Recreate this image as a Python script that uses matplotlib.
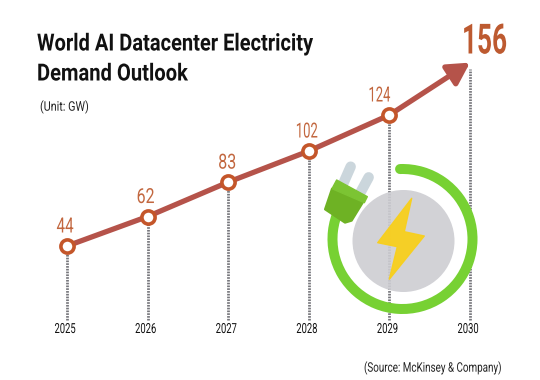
import matplotlib
matplotlib.use("Agg")
import matplotlib.pyplot as plt
from matplotlib.patches import Circle, Arc, Polygon
from matplotlib.patheffects import AbstractPathEffect
from matplotlib.transforms import Affine2D

years = [2025, 2026, 2027, 2028, 2029, 2030]
demand = [44, 62, 83, 102, 124, 156]

plt.rcParams['font.family'] = ['Roboto', 'Liberation Sans', 'DejaVu Sans']

line_col = '#b5534a'
ring_col = '#c4562a'
num_col = '#c2673f'
grey = '#77777c'


# no condensed font is installed, so squeeze the glyphs sideways when they are drawn
class Squeeze(AbstractPathEffect):
  def __init__(self, sx, x0):
    super().__init__()
    self.sx = sx
    self.x0 = x0

  def draw_path(self, renderer, gc, tpath, affine, rgbFace=None):
    squeeze = Affine2D().translate(-self.x0, 0).scale(self.sx, 1).translate(self.x0, 0)
    renderer.draw_path(gc, tpath, affine + squeeze, rgbFace)


def narrow(t, width_px):
  box = t.get_window_extent(fig.canvas.get_renderer())
  ha = t.get_ha()
  x0 = box.x0 if ha == 'left' else box.x1 if ha == 'right' else (box.x0 + box.x1) / 2
  t.set_path_effects([Squeeze(width_px / box.width, x0)])


fig = plt.figure(figsize=(5.4, 3.8), dpi=100)
ax = fig.add_axes([0, 0, 1, 1])
ax.set_xlim(2025 - 67 / 80.6, 2025 + 473 / 80.6)
ax.set_ylim(44 - 134 / 1.6375, 44 + 246 / 1.6375)
ax.axis('off')

# pixel coordinates for the texts and the icon
ic = fig.add_axes([0, 0, 1, 1])
ic.set_xlim(0, 540)
ic.set_ylim(380, 0)
ic.axis('off')
ic.patch.set_alpha(0)

# drop lines down to the year labels
base = 44 - 74 / 1.6375
for x, y in zip(years, demand):
  top = y - 4 if x == 2030 else y
  ax.plot([x, x], [base, top], color=grey, lw=2, ls=(0, (0.6, 0.4)), zorder=1)
  t = ax.annotate(str(x), (x, base), xytext=(-2, -9), textcoords='offset pixels', ha='center',
                  va='center', fontsize=10, color='#111111')
  narrow(t, 21)

ax.plot(years[:-1], demand[:-1], color=line_col, lw=3.8, zorder=3, solid_capstyle='butt')
ax.annotate('', xy=(years[-1], demand[-1]), xytext=(years[-2], demand[-2]), zorder=3,
            arrowprops=dict(arrowstyle='-|>,head_length=0.65,head_width=0.36', color=line_col,
                            lw=3.8, shrinkA=0, shrinkB=0, mutation_scale=20))
ax.plot(years[:-1], demand[:-1], 'o', ms=9.5, mfc='white', mec=ring_col, mew=2.6, zorder=4)

label_dx = [-2, -2, -1, -2, -10]
label_w = [17, 18, 18, 22, 22]
for x, y, dx, w in zip(years, demand, label_dx, label_w):
  t = ax.annotate(str(y), (x, y), xytext=(dx, 19), textcoords='offset pixels', ha='center',
                  va='center', fontsize=15, color=num_col)
  narrow(t, w)
t = ic.text(484.5, 42, str(demand[-1]), ha='center', va='center', fontsize=30, fontweight='bold',
            color='#bd5a30')
narrow(t, 45)

t = ic.text(37, 44, 'World AI Datacenter Electricity', ha='left', va='center', fontsize=17,
            fontweight='bold', color='#111111')
narrow(t, 276)
t = ic.text(37, 74, 'Demand Outlook', ha='left', va='center', fontsize=17, fontweight='bold',
            color='#111111')
narrow(t, 151)
t = ic.text(40, 107, '(Unit: GW)', ha='left', va='center', fontsize=9.5, color='#222222')
narrow(t, 49)
t = ic.text(502, 368, '(Source: McKinsey & Company)', ha='right', va='center', fontsize=9.5,
            color='#222222')
narrow(t, 138)

ic.add_patch(Circle((403.5, 241), 51, fc='#cdcdd2', ec='none', alpha=0.9))
ic.add_patch(Arc((402.5, 239), 140, 140, theta1=-92, theta2=205, lw=7.2, color='#77d133',
                 capstyle='round', zorder=2))

bolt = [(411.7, 198.3), (377.7, 242.7), (397.3, 246.7), (389.3, 279.3), (424.3, 236), (404.3, 231.7)]
ic.add_patch(Polygon(bolt, closed=True, fc='#f8cf1c', ec='#f8cf1c', lw=1, joinstyle='round',
                     alpha=0.95, zorder=3))


def zoomed(pts):
  return [(310 + a / 3, 150 + b / 3) for a, b in pts]


for p in ([(122, 50), (100, 100)], [(176, 82), (150, 130)]):
  (x1, y1), (x2, y2) = zoomed(p)
  ic.plot([x1, x2], [y1, y2], color='#cbd6dc', lw=7.5, solid_capstyle='round', zorder=4)
body = zoomed([(66, 116), (160, 155), (125, 212), (105, 218), (45, 178)])
ic.add_patch(Polygon(body, closed=True, fc='#6eb224', ec='#6eb224', lw=1.5, joinstyle='round', zorder=5))
collar = zoomed([(80, 90), (172, 140), (163, 158), (66, 116)])
ic.add_patch(Polygon(collar, closed=True, fc='#7cc433', ec='#7cc433', lw=1, joinstyle='round', zorder=6))

fig.savefig('out.png', dpi=100)
